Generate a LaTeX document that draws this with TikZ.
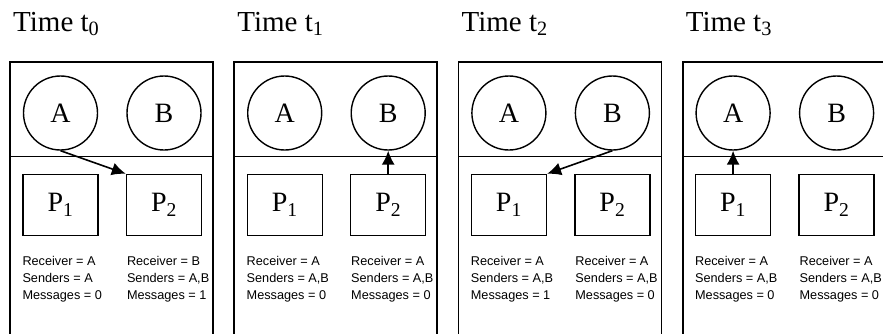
\documentclass[tikz,border=0pt]{standalone}
\usepackage{fontspec}
\setmainfont{Liberation Serif}
\newfontfamily\infofont{Liberation Sans}
\usetikzlibrary{positioning,arrows.meta}
\begin{document}
\begin{tikzpicture}[x=1pt,y=1pt]
\tikzstyle{every node}+=[inner sep=0pt]
\tikzstyle{proc}=[draw, circle, line width=1.4pt, minimum size=74pt, font=\fontsize{28}{30}\selectfont]
\tikzstyle{peer}=[draw, rectangle, line width=1.4pt, minimum width=75pt, minimum height=61pt, font=\fontsize{28}{30}\selectfont]
\tikzstyle{info}=[align=left, font=\infofont\fontsize{12.7}{17}\selectfont]
\tikzstyle{stamp}=[anchor=base west, font=\fontsize{29}{32}\selectfont]
\tikzstyle{frame}=[line width=1.8pt]
\tikzstyle{msg}=[line width=1.6pt, -{Latex[length=14pt,width=13pt]}]
\useasboundingbox (0,0) rectangle (883,-333);
% time t0
\draw [frame] (10,-340) |- (213,-62) -- (213,-340);
\draw [frame] (10,-156.5) -- (213,-156.5);
\node [stamp] (time0) at (13,-31) {Time t\textsubscript{0}};
\node [proc] (a0) at (60.5,-113) {A};
\node [proc] (b0) at (164,-113) {B};
\node [peer] (p10) at (60.5,-205) {P\textsubscript{1}};
\node [peer] (p20) at (164,-205) {P\textsubscript{2}};
\node [info, below right=20pt and 0pt of p10.south west] (s10) {Receiver = A\\Senders = A\\Messages = 0};
\node [info, below right=20pt and 1pt of p20.south west] (s20) {Receiver = B\\Senders = A,B\\Messages = 1};
\draw [msg] (a0.south) -- (p20.north west);
% time t1
\draw [frame] (234.2,-340) |- (437.2,-62) -- (437.2,-340);
\draw [frame] (234.2,-156.5) -- (437.2,-156.5);
\node [stamp] (time1) at (237.2,-31) {Time t\textsubscript{1}};
\node [proc] (a1) at (284.7,-113) {A};
\node [proc] (b1) at (388.2,-113) {B};
\node [peer] (p11) at (284.7,-205) {P\textsubscript{1}};
\node [peer] (p21) at (388.2,-205) {P\textsubscript{2}};
\node [info, below right=20pt and 0pt of p11.south west] (s11) {Receiver = A\\Senders = A,B\\Messages = 0};
\node [info, below right=20pt and 1pt of p21.south west] (s21) {Receiver = A\\Senders = A,B\\Messages = 0};
\draw [msg] (p21.north) -- (b1.south);
% time t2
\draw [frame] (458.4,-340) |- (661.4,-62) -- (661.4,-340);
\draw [frame] (458.4,-156.5) -- (661.4,-156.5);
\node [stamp] (time2) at (461.4,-31) {Time t\textsubscript{2}};
\node [proc] (a2) at (508.9,-113) {A};
\node [proc] (b2) at (612.4,-113) {B};
\node [peer] (p12) at (508.9,-205) {P\textsubscript{1}};
\node [peer] (p22) at (612.4,-205) {P\textsubscript{2}};
\node [info, below right=20pt and 0pt of p12.south west] (s12) {Receiver = A\\Senders = A,B\\Messages = 1};
\node [info, below right=20pt and 1pt of p22.south west] (s22) {Receiver = A\\Senders = A,B\\Messages = 0};
\draw [msg] (b2.south) -- (p12.north east);
% time t3
\draw [frame] (682.6,-340) |- (885.6,-62) -- (885.6,-340);
\draw [frame] (682.6,-156.5) -- (885.6,-156.5);
\node [stamp] (time3) at (685.6,-31) {Time t\textsubscript{3}};
\node [proc] (a3) at (733.1,-113) {A};
\node [proc] (b3) at (836.6,-113) {B};
\node [peer] (p13) at (733.1,-205) {P\textsubscript{1}};
\node [peer] (p23) at (836.6,-205) {P\textsubscript{2}};
\node [info, below right=20pt and 0pt of p13.south west] (s13) {Receiver = A\\Senders = A,B\\Messages = 0};
\node [info, below right=20pt and 1pt of p23.south west] (s23) {Receiver = A\\Senders = A,B\\Messages = 0};
\draw [msg] (p13.north) -- (a3.south);
\end{tikzpicture}
\end{document}
